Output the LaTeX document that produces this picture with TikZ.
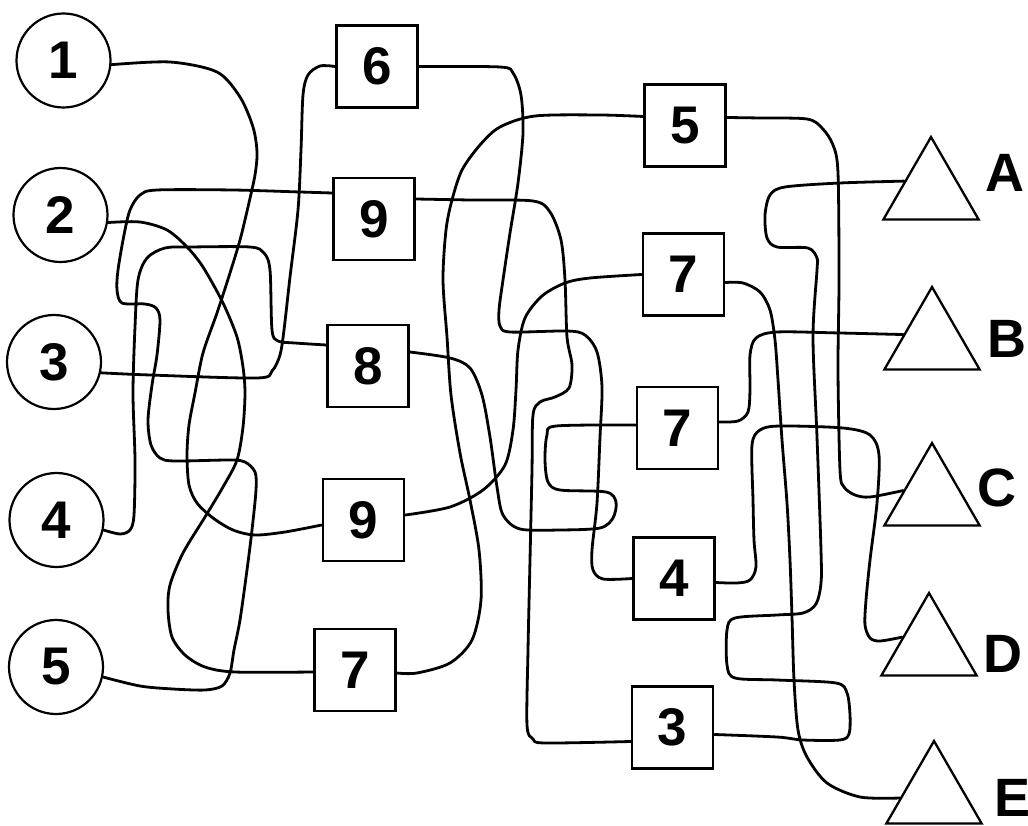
\documentclass[tikz,border=0pt]{standalone}
\usepackage{fontspec}
\setmainfont{Liberation Sans}
\usetikzlibrary{shapes.geometric,calc}
\newcommand\digfont{\fontsize{53}{53}\selectfont\bfseries}
\newcommand\letfont{\fontsize{54}{54}\selectfont\bfseries}
\tikzset{
  circ/.style={circle, draw, line width=2.2pt, minimum size=94pt, inner sep=0pt, font=\digfont},
  sq/.style={rectangle, draw, line width=2.7pt, minimum width=81pt, minimum height=82pt, inner sep=0pt, font=\digfont},
  tri/.style={regular polygon, regular polygon sides=3, draw, line width=2.3pt, minimum size=110pt, inner sep=0pt},
  lab/.style={inner sep=0pt, font=\letfont},
  wire/.style={line width=2.8pt, line join=round, line cap=round}
}
\begin{document}
\begin{tikzpicture}[x=1pt,y=-1pt]
\useasboundingbox[fill=white] (0,0) rectangle (1028,826);
% circles
\node[circ] (c1) at (63.5,60.5) {1};
\node[circ] (c2) at (60.5,215) {2};
\node[circ] (c3) at (54,362) {3};
\node[circ] (c4) at (56.5,520) {4};
\node[circ] (c5) at (56,667) {5};
% left boxes
\node[sq] (n6) at (377,66.5) {6};
\node[sq] (n9a) at (374,219) {9};
\node[sq] (n8) at (368,366) {8};
\node[sq] (n9b) at (363.5,520) {9};
\node[sq] (n7a) at (355,670) {7};
% right boxes
\node[sq] (n5) at (685,125.5) {5};
\node[sq] (n7b) at (683.5,274.5) {7};
\node[sq] (n7c) at (677.5,428) {7};
\node[sq] (n4) at (674,578.5) {4};
\node[sq] (n3) at (672.5,727.5) {3};
% triangles
\node[tri] (tA) at (931,192) {};
\node[tri] (tB) at (932,342) {};
\node[tri] (tC) at (932,498) {};
\node[tri] (tD) at (929,648) {};
\node[tri] (tE) at (934,796) {};
\node[lab] (lA) at (1005,173) {A};
\node[lab] (lB) at (1007,339) {B};
\node[lab] (lC) at (997,488) {C};
\node[lab] (lD) at (1003,654) {D};
\node[lab] (lE) at (1012,798) {E};
% attachment points
\coordinate (p9aw) at ($(n9a.west)+(0,-26)$);
\coordinate (p9ae) at ($(n9a.east)+(0,-20)$);
\coordinate (p8w) at ($(n8.west)+(0,-21)$);
\coordinate (p8e) at ($(n8.east)+(0,-14)$);
\coordinate (p9bw) at ($(n9b.west)+(0,5)$);
\coordinate (p9be) at ($(n9b.east)+(0,-5)$);
\coordinate (p7aw) at ($(n7a.west)+(0,2)$);
\coordinate (p7ae) at ($(n7a.east)+(0,3)$);
\coordinate (p5w) at ($(n5.west)+(0,-9)$);
\coordinate (p5e) at ($(n5.east)+(0,-8)$);
\coordinate (p7be) at ($(n7b.east)+(0,8)$);
\coordinate (p7cw) at ($(n7c.west)+(0,-3)$);
\coordinate (p7ce) at ($(n7c.east)+(0,-6)$);
\coordinate (p4e) at ($(n4.east)+(0,4)$);
\coordinate (p3w) at ($(n3.west)+(0,14)$);
\coordinate (p3e) at ($(n3.east)+(0,7)$);
\coordinate (aA) at ($(tA.corner 1)!0.54!(tA.corner 2)$);
\coordinate (aB) at ($(tB.corner 1)!0.58!(tB.corner 2)$);
\coordinate (aC) at ($(tC.corner 1)!0.58!(tC.corner 2)$);
\coordinate (aD) at ($(tD.corner 1)!0.54!(tD.corner 2)$);
\coordinate (aE) at ($(tE.corner 1)!0.69!(tE.corner 2)$);
% c1 -> 9b
\draw[wire] plot[smooth,tension=0.5] coordinates {(c1.-5) (170,62) (217,72) (240,97) (253,127) (257,152) (255,175) (248,207) (240,240) (230,273) (217,313) (203,353) (195,393) (189,425) (187,455) (189,485) (197,503) (213,518) (233,530) (255,535) (285,532) (p9bw)};
% c2 -> 7a
\draw[wire] plot[smooth,tension=0.5] coordinates {(c2.-9) (140,222) (167,230) (187,247) (203,267) (223,303) (237,337) (243,367) (245,393) (243,427) (237,460) (223,487) (205,517) (183,553) (170,585) (168,610) (172,637) (185,655) (205,667) (235,672) (p7aw)};
% c3 -> 6
\draw[wire] plot[smooth,tension=0.5] coordinates {(c3.-13) (150,375) (257,378) (272,371) (280,355) (284,330) (290,277) (298,210) (301,150) (303,95) (308,75) (320,66) (n6.west)};
% c4 -> 8
\draw[wire] plot[smooth,tension=0.5] coordinates {(c4.-12) (120,534) (130,530) (134,515) (135,460) (133,393) (135,327) (138,280) (147,258) (165,248) (190,247) (250,247) (264,253) (270,270) (272,330) (278,341) (295,343) (p8w)};
% c5 -> 9a
\draw[wire] plot[smooth,tension=0.5] coordinates {(c5.-12) (140,686) (173,689) (205,690) (222,686) (230,673) (234,650) (240,620) (247,570) (252,530) (256,490) (255,472) (245,462) (230,460) (175,461) (160,458) (151,445) (148,420) (152,385) (157,355) (160,320) (156,308) (145,304) (122,303) (117,290) (118,270) (124,235) (130,210) (140,195) (157,190) (233,190) (300,192) (p9aw)};
% 6 -> 4
\draw[wire] plot[smooth,tension=0.5] coordinates {(n6.east) (500,67) (513,73) (521,95) (523,133) (518,183) (510,233) (503,280) (499,310) (500,326) (510,332) (567,331) (585,335) (597,352) (602,387) (600,437) (597,503) (592,550) (593,570) (603,579) (n4.west)};
% 9a -> 3
\draw[wire] plot[smooth,tension=0.5] coordinates {(p9ae) (470,200) (533,201) (550,212) (561,240) (565,280) (567,337) (572,365) (569,388) (555,397) (540,402) (533,415) (532,470) (530,560) (528,650) (527,725) (533,739) (545,743) (p3w)};
% 8 -> 7c
\draw[wire] plot[smooth,tension=0.5] coordinates {(p8e) (450,358) (470,368) (482,395) (490,437) (497,487) (503,515) (520,529) (560,530) (600,528) (613,518) (616,502) (606,492) (560,490) (548,482) (545,460) (547,435) (556,426) (p7cw)};
% 9b -> 7b
\draw[wire] plot[smooth,tension=0.5] coordinates {(p9be) (450,507) (483,490) (505,465) (513,430) (516,390) (518,350) (525,318) (542,296) (565,283) (590,278) (n7b.west)};
% 7a -> 5
\draw[wire] plot[smooth,tension=0.5] coordinates {(p7ae) (417,673) (450,663) (472,640) (481,600) (479,550) (470,500) (460,453) (451,395) (447,337) (443,280) (446,230) (452,200) (462,170) (480,145) (500,127) (535,116) (600,115) (p5w)};
% 5 -> C
\draw[wire] plot[smooth,tension=0.5] coordinates {(p5e) (760,118) (807,119) (822,128) (833,145) (838,173) (839,280) (838,370) (840,470) (844,487) (855,495) (870,497) (aC)};
% 7b -> E
\draw[wire] plot[smooth,tension=0.5] coordinates {(p7be) (743,283) (760,292) (770,310) (775,340) (778,380) (782,440) (787,503) (790,560) (792,617) (794,680) (798,730) (807,757) (827,783) (860,797) (aE)};
% 7c -> B
\draw[wire] plot[smooth,tension=0.5] coordinates {(p7ce) (738,421) (748,412) (750,390) (750,355) (756,338) (777,332) (840,333) (aB)};
% 4 -> D
\draw[wire] plot[smooth,tension=0.5] coordinates {(p4e) (737,583) (750,580) (756,567) (754,540) (753,500) (752,445) (760,430) (780,426) (843,428) (870,435) (879,455) (877,503) (870,560) (866,600) (865,625) (870,638) (880,641) (aD)};
% 3 -> A
\draw[wire] plot[smooth,tension=0.5] coordinates {(p3e) (777,737) (803,740) (840,740) (849,734) (850,715) (847,693) (836,683) (777,680) (735,678) (727,665) (727,630) (735,618) (777,615) (803,613) (816,604) (821,583) (821,550) (817,437) (813,337) (817,270) (817,258) (808,248) (777,247) (767,238) (765,215) (770,195) (785,187) (840,183) (aA)};
\end{tikzpicture}
\end{document}
